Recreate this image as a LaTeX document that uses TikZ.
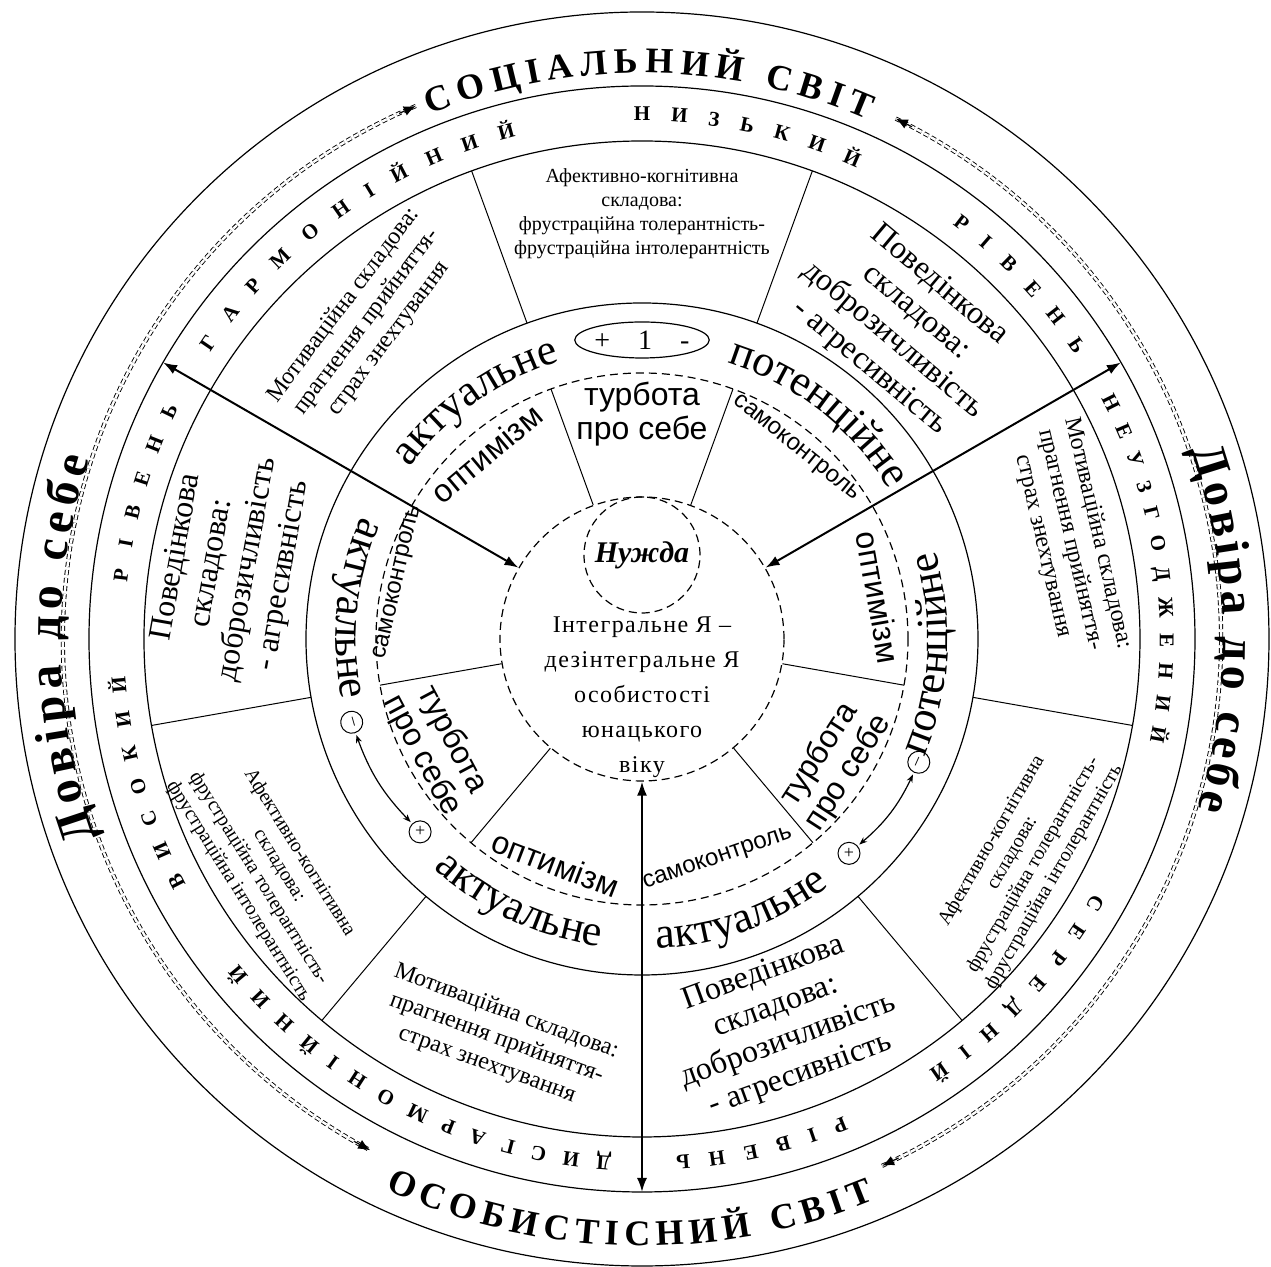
\documentclass[tikz,border=0pt]{standalone}
\usepackage{fontspec}
\setmainfont{Liberation Serif}
\setsansfont{Liberation Sans}
\usetikzlibrary{arrows.meta,decorations.text,shapes.geometric}

\newcommand\worldfont{\fontsize{18pt}{20pt}\selectfont\bfseries}
\newcommand\trustfont{\fontsize{24pt}{28pt}\selectfont\bfseries}
\newcommand\levelfont{\fontsize{10.5pt}{12pt}\selectfont\bfseries}
\newcommand\modefont{\fontsize{22pt}{24pt}\selectfont}

\tikzset{
  ring/.style={line width=0.6pt},
  dashring/.style={line width=0.6pt, dash pattern=on 4pt off 2.5pt},
  spoke/.style={line width=0.5pt},
  bigarrow/.style={line width=1pt, {Latex[length=7pt,width=5pt]}-{Latex[length=7pt,width=5pt]}},
  dotarc/.style={double, double distance=1.2pt, line width=0.45pt, dash pattern=on 2.5pt off 1.5pt},
  dottip/.style={line width=0.6pt, -{Latex[length=6pt,width=5pt]}},
  arcword/.style={decorate, decoration={text along path, text align=center, text={#1}}},
  fitword/.style={decorate, decoration={text along path, text align=fit to path, text={#1}}},
  sector/.style={align=center, inner sep=0pt},
  affect/.style={sector, font=\fontsize{10pt}{12pt}\selectfont},
  behave/.style={sector, font=\fontsize{16pt}{18pt}\selectfont},
  motive/.style={sector, font=\fontsize{12pt}{14pt}\selectfont},
  trait/.style={align=center, inner sep=0pt, font=\sffamily\fontsize{16pt}{17pt}\selectfont},
  ctrlword/.style={inner sep=0pt, font=\sffamily\fontsize{12pt}{14pt}\selectfont},
  sign/.style={circle, draw, line width=0.5pt, minimum size=11pt, inner sep=0pt, font=\fontsize{9pt}{9pt}\selectfont},
  turnarrow/.style={line width=0.6pt, {Stealth[length=4pt]}-{Stealth[length=4pt]}, shorten <=1pt, shorten >=1pt}
}

\begin{document}
\begin{tikzpicture}[x=0.5pt, y=0.5pt]
  \fill[white] (-642,-628) rectangle (629,639);
  \useasboundingbox (-642,-628) rectangle (629,639);
  % Define circles
  \coordinate (c) at (0,0);
  \draw[ring] (c) circle[radius=627];
  \draw[ring] (c) circle[radius=553];
  \draw[ring] (c) circle[radius=498];
  \draw[ring] (c) circle[radius=336];
  \draw[dashring] (c) circle[radius=266];
  \node[circle, draw, dashring, minimum size=142pt, inner sep=0pt] (core) at (c) {};
  \node[circle, draw, dashring, minimum size=58pt, inner sep=0pt,
    font=\fontsize{15pt}{15pt}\selectfont\bfseries\itshape] (need) at (0,84) {Нужда};
  \node[align=center, font=\fontsize{12pt}{17.5pt}\selectfont\addfontfeature{LetterSpace=6}]
    (coretext) at (0,-58) {Інтегральне Я –\\дезінтегральне Я\\особистості\\юнацького\\віку};
  \node[ellipse, draw, ring, minimum width=62pt, minimum height=18pt, inner sep=0pt,
    font=\fontsize{14pt}{14pt}\selectfont] (unit) at (90:299) {+\quad1\quad-};

  % Spokes
  \draw[spoke] (core.70) -- (70:266) (core.110) -- (110:266) (core.190) -- (190:266)
    (core.230) -- (230:266) (core.310) -- (310:266) (core.350) -- (350:266);
  \draw[spoke] (70:336) -- (70:498) (110:336) -- (110:498) (190:336) -- (190:498)
    (230:336) -- (230:498) (310:336) -- (310:498) (350:336) -- (350:498);

  % Connect core with the worlds
  \coordinate (out30) at (30:553);
  \coordinate (out150) at (150:553);
  \coordinate (out270) at (270:553);
  \draw[bigarrow] (core.30) -- (out30);
  \draw[bigarrow] (core.150) -- (out150);
  \draw[bigarrow] (core.270) -- (out270);

  % Dotted arcs
  \coordinate (dotL) at (113:579);
  \draw[dotarc] (dotL) arc[start angle=113, end angle=242, radius=579] coordinate (dotLend);
  \draw[dottip] (114.8:579) -- (dotL);
  \draw[dottip] (240.2:579) -- (dotLend);
  \coordinate (dotR) at (64:579);
  \draw[dotarc] (dotR) arc[start angle=64, end angle=-65.5, radius=579] coordinate (dotRend);
  \draw[dottip] (62.2:579) -- (dotR);
  \draw[dottip] (-63.7:579) -- (dotRend);

  % Outer ring
  \path[fitword={|\worldfont|СОЦІАЛЬНИЙ СВІТ}] (112:566) arc[start angle=112, end angle=66.5, radius=566];
  \path[fitword={|\worldfont|ОСОБИСТІСНИЙ СВІТ}] (245:607) arc[start angle=245, end angle=292.5, radius=607];
  \path[fitword={|\trustfont|Довіра до себе}] (200:581) arc[start angle=200, end angle=162, radius=581];
  \path[fitword={|\trustfont|Довіра до себе}] (19:581) arc[start angle=19, end angle=-17, radius=581];

  % Level ring
  \path[fitword={|\levelfont|ГАРМОНІЙНИЙ}] (146.4:518) arc[start angle=146.4, end angle=104.1, radius=518];
  \path[fitword={|\levelfont|НИЗЬКИЙ}] (90.9:518) arc[start angle=90.9, end angle=65.5, radius=518];
  \path[fitword={|\levelfont|РІВЕНЬ}] (53.2:518) arc[start angle=53.2, end angle=33.3, radius=518];
  \path[fitword={|\levelfont|НЕУЗГОДЖЕНИЙ}] (27.6:518) arc[start angle=27.6, end angle=-11.4, radius=518];
  \path[fitword={|\levelfont|СЕРЕДНІЙ}] (-29.4:518) arc[start angle=-29.4, end angle=-56.4, radius=518];
  \path[fitword={|\levelfont|РІВЕНЬ}] (292.9:518) arc[start angle=292.9, end angle=273.7, radius=518];
  \path[fitword={|\levelfont|ДИСГАРМОНІЙНИЙ}] (266.6:518) arc[start angle=266.6, end angle=218.8, radius=518];
  \path[fitword={|\levelfont|ВИСОКИЙ}] (208.3:518) arc[start angle=208.3, end angle=184.1, radius=518];
  \path[fitword={|\levelfont|РІВЕНЬ}] (173.7:518) arc[start angle=173.7, end angle=153.5, radius=518];

  % Components
  \node[affect] (affT) at (90:425) {Афективно-когнітивна\\складова:\\фрустраційна толерантність-\\фрустраційна інтолерантність};
  \node[behave, rotate=-40] (behTR) at (50:408) {Поведінкова\\складова:\\доброзичливість\\- агресивність};
  \node[motive, rotate=-77] (motR) at (13:440) {Мотиваційна складова:\\прагнення прийняття-\\страх знехтування};
  \node[affect, rotate=60] (affBR) at (330:440) {Афективно-когнітивна\\складова:\\фрустраційна толерантність-\\фрустраційна інтолерантність};
  \node[behave, rotate=20] (behB) at (290:410) {Поведінкова\\складова:\\доброзичливість\\- агресивність};
  \node[motive, rotate=-20] (motB) at (250:425) {Мотиваційна складова:\\прагнення прийняття-\\страх знехтування};
  \node[affect, rotate=-58] (affBL) at (212:440) {Афективно-когнітивна\\складова:\\фрустраційна толерантність-\\фрустраційна інтолерантність};
  \node[behave, rotate=80] (behL) at (170:418) {Поведінкова\\складова:\\доброзичливість\\- агресивність};
  \node[motive, rotate=53] (motTL) at (131:420) {Мотиваційна складова:\\прагнення прийняття-\\страх знехтування};

  % Modes
  \path[arcword={|\modefont|актуальне}] (160:289) arc[start angle=160, end angle=90, radius=289];
  \path[arcword={|\modefont|потенційне}] (87:289) arc[start angle=87, end angle=17, radius=289];
  \path[arcword={|\modefont|актуальне}] (144:306) arc[start angle=144, end angle=204, radius=306];
  \path[arcword={|\modefont|потенційне}] (-33:306) arc[start angle=-33, end angle=27, radius=306];
  \path[arcword={|\modefont|актуальне}] (215:310) arc[start angle=215, end angle=275, radius=310];
  \path[arcword={|\modefont|актуальне}] (260:310) arc[start angle=260, end angle=320, radius=310];
  \node[sign, rotate=286] (minusL) at (196:302) {–};
  \node[sign] (plusL) at (221:294) {+};
  \node[sign, rotate=66] (minusR) at (336:303) {–};
  \node[sign] (plusR) at (314:298) {+};
  \draw[turnarrow] (minusL) to[bend right=12] (plusL);
  \draw[turnarrow] (minusR) to[bend left=12] (plusR);

  % Traits
  \node[trait, rotate=40] (optTL) at (130:242) {оптимізм};
  \node[trait] (careT) at (90:225) {турбота\\про себе};
  \node[ctrlword, rotate=-39] (selfTR) at (51:245) {самоконтроль};
  \node[trait, rotate=-80] (optR) at (10:240) {оптимізм};
  \node[trait, rotate=57] (careBR) at (327:229) {турбота\\про себе};
  \node[ctrlword, rotate=19] (selfB) at (289:233) {самоконтроль};
  \node[trait, rotate=-21] (optB) at (249:241) {оптимізм};
  \node[trait, rotate=-62] (careBL) at (208:232) {турбота\\про себе};
  \node[ctrlword, rotate=77] (selfL) at (167:250) {самоконтроль};
\end{tikzpicture}
\end{document}
